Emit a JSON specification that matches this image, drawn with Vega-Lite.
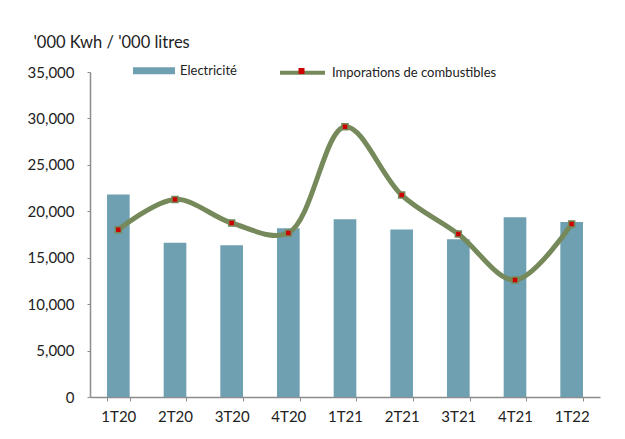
{
  "$schema": "https://vega.github.io/schema/vega-lite/v6.json",
  "width": 510,
  "height": 325,
  "autosize": "none",
  "padding": {"left": 90, "top": 72, "right": 25, "bottom": 42},
  "background": "white",
  "config": {
    "view": {"stroke": null},
    "font": "Lato",
    "legend": {"padding": 0, "labelFont": "Lato", "labelColor": "#222222", "labelFontSize": 13, "labelOffset": 5, "labelLimit": 300},
    "axis": {"labelFont": "Lato", "titleFont": "Lato", "labelColor": "#222222", "titleColor": "#222222", "domainColor": "#8c8c8c", "tickColor": "#8c8c8c", "grid": false}
  },
  "data": {
    "values": [
      {"q": "1T20", "elec": 21800, "comb": 18020},
      {"q": "2T20", "elec": 16600, "comb": 21280},
      {"q": "3T20", "elec": 16330, "comb": 18740},
      {"q": "4T20", "elec": 18170, "comb": 17660},
      {"q": "1T21", "elec": 19130, "comb": 29110},
      {"q": "2T21", "elec": 18050, "comb": 21750},
      {"q": "3T21", "elec": 16980, "comb": 17550},
      {"q": "4T21", "elec": 19350, "comb": 12600},
      {"q": "1T22", "elec": 18850, "comb": 18630}
    ]
  },
  "encoding": {
    "x": {
      "field": "q", "type": "nominal", "sort": null,
      "scale": {"paddingInner": 0.6, "paddingOuter": 0.3},
      "axis": {"title": null, "labelAngle": 0, "labelFontSize": 15, "labelPadding": 8, "tickBand": "extent", "tickSize": 4, "domainWidth": 1.5}
    }
  },
  "layer": [
    {
      "mark": {"type": "bar", "color": "#6fa0b1"},
      "encoding": {
        "y": {
          "field": "elec", "type": "quantitative",
          "scale": {"domain": [0, 35000]},
          "axis": {
            "values": [0, 5000, 10000, 15000, 20000, 25000, 30000, 35000],
            "format": ",d", "labelFontSize": 15, "tickSize": 3, "labelPadding": 13, "domainWidth": 1.5,
            "title": "'000 Kwh / '000 litres", "titleAngle": 0, "titleAlign": "left", "titleBaseline": "alphabetic",
            "titleX": -57, "titleY": -25, "titleFontSize": 16.5, "titleFontWeight": "normal"
          }
        },
        "fill": {
          "datum": "Electricité", "type": "nominal",
          "scale": {"range": ["#6fa0b1"]},
          "legend": {"title": null, "orient": "none", "legendX": 43, "legendY": -22.3, "symbolType": "M-1,-0.17L1,-0.17L1,0.17L-1,0.17Z", "symbolSize": 1764, "symbolStrokeWidth": 0}
        }
      }
    },
    {
      "mark": {"type": "line", "interpolate": "catmull-rom", "strokeWidth": 5, "color": "#76895a"},
      "encoding": {
        "y": {"field": "comb", "type": "quantitative"},
        "stroke": {
          "datum": "Imporations de combustibles", "type": "nominal",
          "scale": {"range": ["#76895a"]},
          "legend": {"title": null, "orient": "none", "legendX": 188, "legendY": -23.8, "symbolType": "stroke", "symbolStrokeWidth": 4, "symbolSize": 2025}
        }
      }
    },
    {
      "mark": {"type": "point", "shape": "square", "filled": true, "size": 36, "fill": "#cc0000", "stroke": "#76895a", "strokeWidth": 1.5, "opacity": 1},
      "encoding": {
        "y": {"field": "comb", "type": "quantitative"},
        "shape": {
          "datum": "m", "type": "nominal",
          "scale": {"range": ["square"]},
          "legend": {"title": null, "orient": "none", "legendX": 205, "legendY": -7.5, "symbolSize": 36, "symbolFillColor": "#cc0000", "symbolStrokeColor": "#76895a", "symbolStrokeWidth": 1.5, "labelOpacity": 0}
        }
      }
    }
  ],
  "resolve": {"legend": {"fill": "independent", "stroke": "independent", "shape": "independent"}}
}
